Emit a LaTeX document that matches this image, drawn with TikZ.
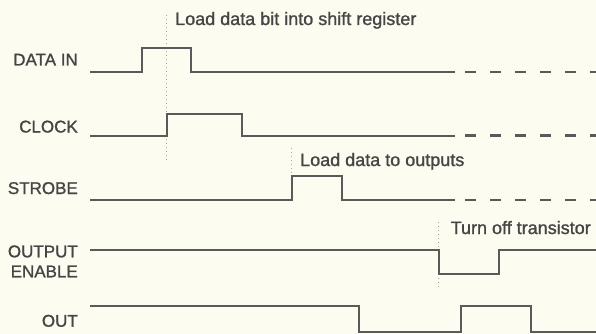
\documentclass[tikz,border=0pt]{standalone}
\usepackage{fontspec}
\setmainfont{Liberation Sans}
\newfontfamily\heavysans[FakeBold=1.2]{Liberation Sans}
\definecolor{bg}{HTML}{FCFCF0}
\definecolor{wave}{HTML}{5A5A5A}
\definecolor{ink}{HTML}{454545}
\definecolor{dotc}{HTML}{A8A8A0}
\begin{document}
\begin{tikzpicture}[x=1pt,y=-1pt,
  sig/.style={draw=wave,line width=2pt,line join=miter},
  tail/.style={draw=wave,line width=2.2pt,dash pattern=on 11pt off 14pt},
  marker/.style={draw=dotc,line width=1pt,dash pattern=on 1pt off 3pt},
  siglabel/.style={anchor=base east,inner sep=0pt,text=ink,font=\heavysans\fontsize{17}{17}\selectfont},
  note/.style={anchor=base west,inner sep=0pt,text=ink,font=\heavysans\fontsize{18}{18}\selectfont}]
\fill[bg] (0,0) rectangle (596,334);
\useasboundingbox (0,0) rectangle (596,334);
% labels
\node[siglabel] (ldata) at (78,65.5) {DATA IN};
\node[siglabel] (lclock) at (78,132.5) {CLOCK};
\node[siglabel] (lstrobe) at (78,194) {STROBE};
\node[siglabel] (loutput) at (78,257.3) {OUTPUT};
\node[siglabel] (lenable) at (78,277.3) {ENABLE};
\node[siglabel] (lout) at (78,326.7) {OUT};
% markers
\draw[marker] (166.7,15) -- (166.7,162);
\draw[marker] (291,148) -- (291,176);
\draw[marker] (438.5,222) -- (438.5,290);
% notes
\node[note] (n1) at (175,25) {Load data bit into shift register};
\node[note] (n2) at (300,166) {Load data to outputs};
\node[note] (n3) at (450.5,234) {Turn off transistor};
% DATA IN
\draw[sig] (90,72.3) -- (142.3,72.3) -- (142.3,48.5) -- (191.3,48.5) -- (191.3,72.3) -- (455,72.3);
\draw[tail] (465,72.3) -- (600,72.3);
% CLOCK
\draw[sig] (90,135.5) -- (167.3,135.5) -- (167.3,113.5) -- (242,113.5) -- (242,135.5) -- (455,135.5);
\draw[tail] (465,135.5) -- (600,135.5);
% STROBE
\draw[sig] (90,200) -- (291.7,200) -- (291.7,176) -- (342.3,176) -- (342.3,200) -- (455,200);
\draw[tail] (465,200) -- (600,200);
% OUTPUT ENABLE
\draw[sig] (90,250) -- (439,250) -- (439,273.5) -- (499.3,273.5) -- (499.3,250) -- (600,250);
% OUT
\draw[sig] (90,306) -- (359.3,306) -- (359.3,331.5) -- (460.5,331.5) -- (460.5,306) -- (531,306) -- (531,331.5) -- (600,331.5);
\end{tikzpicture}
\end{document}
